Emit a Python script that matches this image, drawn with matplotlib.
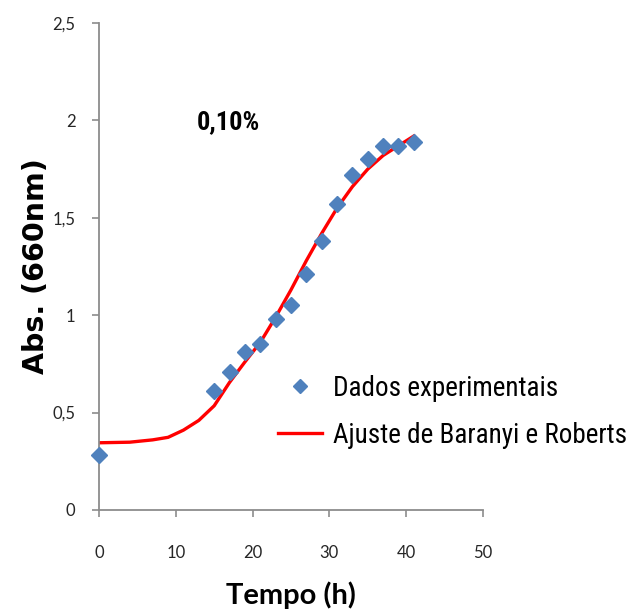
import matplotlib.pyplot as plt

# experimental absorbance readings
tempo = [0, 15, 17, 19, 21, 23, 25, 27, 29, 31, 33, 35, 37, 39, 41]
absorbancia = [0.28, 0.61, 0.71, 0.81, 0.85, 0.98, 1.05, 1.21, 1.38, 1.57, 1.72, 1.80, 1.87, 1.87, 1.89]

# Baranyi & Roberts model fit
tempo_ajuste = [0, 4, 7, 9, 11, 13, 15, 17, 19, 21, 23, 25, 27, 29, 31, 33, 35, 37, 39, 41]
abs_ajuste = [0.345, 0.348, 0.36, 0.373, 0.41, 0.46, 0.535, 0.655, 0.76, 0.86, 0.99, 1.13,
              1.28, 1.42, 1.55, 1.66, 1.75, 1.82, 1.87, 1.92]

xticks = [0, 10, 20, 30, 40, 50]
yticks = [0, 0.5, 1, 1.5, 2, 2.5]
ytick_labels = ['0', '0,5', '1', '1,5', '2', '2,5']

narrow = ['Roboto Condensed', 'Roboto', 'DejaVu Sans']
tick_font = ['Lato', 'DejaVu Sans']

fig = plt.figure(figsize=(6.37, 6.12), dpi=100)
ax = fig.add_axes([0.1554, 0.1667, 0.6028, 0.7957])

ax.plot(tempo, absorbancia, linestyle='none', marker='D', markersize=8,
        color='#4F81BD', label='Dados experimentais', zorder=3, clip_on=False)
ax.plot(tempo_ajuste, abs_ajuste, color='#FF0000', linewidth=2.4,
        label='Ajuste de Baranyi e Roberts', zorder=2)

ax.set_xlim(0, 50)
ax.set_ylim(0, 2.5)
ax.set_xticks(xticks)
ax.set_xticklabels([str(t) for t in xticks], family=tick_font, fontsize=12, color='#262626')
ax.set_yticks(yticks)
ax.set_yticklabels(ytick_labels, family=tick_font, fontsize=12, color='#262626')

for side in ['top', 'right']:
    ax.spines[side].set_visible(False)
for side in ['left', 'bottom']:
    ax.spines[side].set_color('#8C8C8C')
    ax.spines[side].set_linewidth(1.3)
ax.tick_params(axis='both', direction='out', length=5, width=1.2, color='#8C8C8C')
ax.tick_params(axis='x', pad=20)
ax.tick_params(axis='y', pad=12)

ax.set_ylabel('Abs. (660nm)', family='DejaVu Sans', fontweight='bold', fontsize=20.5, labelpad=2)
ax.set_xlabel('Tempo (h)', family=tick_font, fontweight='bold', fontsize=21, labelpad=15)

ax.text(16.8, 1.99, '0,10%', family=narrow, fontweight='bold', fontsize=19,
        ha='center', va='center')

leg = ax.legend(loc='upper left', bbox_to_anchor=(0.4364, 0.388), bbox_transform=fig.transFigure,
                frameon=False, prop={'family': narrow, 'size': 19.5},
                borderpad=0, borderaxespad=0,
                handlelength=1.63, handletextpad=0.4, labelspacing=0.74, markerscale=0.85)

fig.savefig('out.png', dpi=100)
